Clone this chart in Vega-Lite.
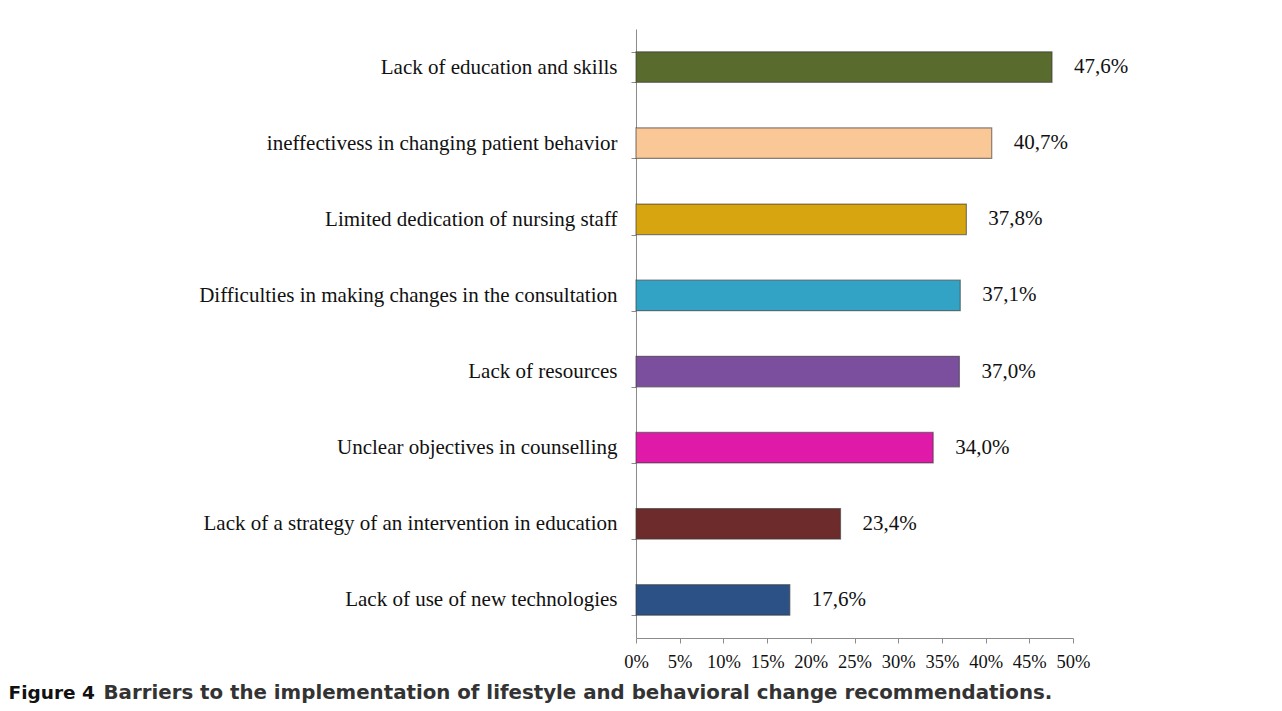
{
  "$schema": "https://vega.github.io/schema/vega-lite/v6.json",
  "width": 437,
  "height": 609,
  "autosize": "none",
  "padding": {"left": 636, "top": 29, "right": 209, "bottom": 73},
  "background": "white",
  "config": {
    "view": {"stroke": null},
    "locale": {"number": {"decimal": ",", "thousands": ".", "grouping": [3], "currency": ["", " €"]}}
  },
  "data": {
    "values": [
      {"barrier": "Lack of education and skills", "share": 0.476},
      {"barrier": "ineffectivess in changing patient behavior", "share": 0.407},
      {"barrier": "Limited dedication of nursing staff", "share": 0.378},
      {"barrier": "Difficulties in making changes in the consultation", "share": 0.371},
      {"barrier": "Lack of resources", "share": 0.370},
      {"barrier": "Unclear objectives in counselling", "share": 0.340},
      {"barrier": "Lack of a strategy of an intervention in education", "share": 0.234},
      {"barrier": "Lack of use of new technologies", "share": 0.176}
    ]
  },
  "encoding": {
    "y": {
      "field": "barrier",
      "type": "nominal",
      "sort": null,
      "scale": {"paddingInner": 0.6, "paddingOuter": 0.3},
      "axis": {
        "title": "Figure 4",
        "titleAngle": 0,
        "titleX": -628,
        "titleY": 669,
        "titleAlign": "left",
        "titleBaseline": "alphabetic",
        "titleFont": "DejaVu Sans",
        "titleFontSize": 18.5,
        "titleFontWeight": "bold",
        "titleColor": "#111111",
        "tickBand": "extent",
        "domainColor": "#8c8c8c",
        "tickColor": "#8c8c8c",
        "tickSize": 5,
        "labelFont": "Liberation Serif",
        "labelFontSize": 21,
        "labelColor": "#111111",
        "labelPadding": 14,
        "labelLimit": 600
      }
    }
  },
  "layer": [
    {
      "mark": {"type": "bar", "strokeWidth": 1.2, "strokeOpacity": 0.6, "stroke": "#3a3a3a"},
      "encoding": {
        "x": {
          "field": "share",
          "type": "quantitative",
          "scale": {"domain": [0, 0.5], "nice": false},
          "axis": {
            "format": ".0%",
            "values": [0, 0.05, 0.1, 0.15, 0.2, 0.25, 0.3, 0.35, 0.4, 0.45, 0.5],
            "grid": false,
            "title": "Barriers to the implementation of lifestyle and behavioral change recommendations.",
            "titleX": -533,
            "titleY": 60,
            "titleAlign": "left",
            "titleBaseline": "alphabetic",
            "titleFont": "DejaVu Sans",
            "titleFontSize": 19.8,
            "titleFontWeight": "bold",
            "titleColor": "#333333",
            "domainColor": "#8c8c8c",
            "tickColor": "#8c8c8c",
            "tickSize": 5,
            "labelFont": "Liberation Serif",
            "labelFontSize": 18.5,
            "labelColor": "#111111",
            "labelPadding": 9,
            "labelFlush": false
          }
        },
        "color": {
          "field": "barrier",
          "type": "nominal",
          "legend": null,
          "scale": {
            "domain": [
              "Lack of education and skills",
              "ineffectivess in changing patient behavior",
              "Limited dedication of nursing staff",
              "Difficulties in making changes in the consultation",
              "Lack of resources",
              "Unclear objectives in counselling",
              "Lack of a strategy of an intervention in education",
              "Lack of use of new technologies"
            ],
            "range": ["#5a6b2e", "#fac796", "#d6a50f", "#32a3c4", "#7b4f9d", "#e01aa8", "#6e2b2b", "#2b5186"]
          }
        }
      }
    },
    {
      "mark": {"type": "text", "align": "left", "baseline": "middle", "dx": 22, "font": "Liberation Serif", "fontSize": 21, "color": "#111111"},
      "encoding": {
        "x": {"field": "share", "type": "quantitative"},
        "text": {"field": "share", "type": "quantitative", "format": ".1%"}
      }
    }
  ]
}
